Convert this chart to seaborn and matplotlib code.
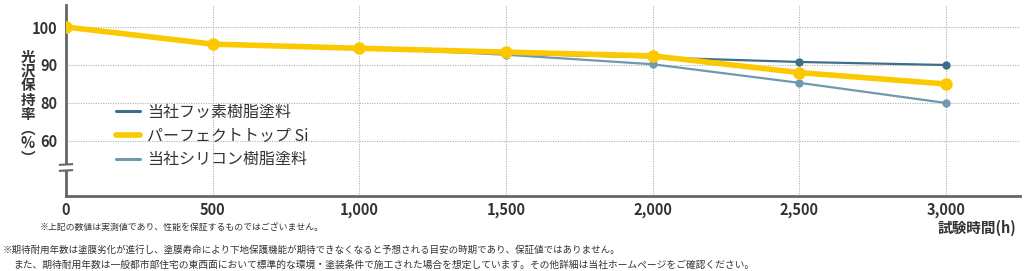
import matplotlib
matplotlib.use("Agg")
import matplotlib.pyplot as plt
import seaborn as sns
import pandas as pd
import numpy as np
from matplotlib.lines import Line2D
from matplotlib.patches import Rectangle

# ---- data ----
hours = [0, 500, 1000, 1500, 2000, 2500, 3000]
fluorine = [100, 95.5, 94.5, 93.0, 92.0, 90.8, 90.0]
perfect_top = [100, 95.5, 94.4, 93.4, 92.4, 88.0, 85.0]
silicone = [100, 95.5, 94.5, 92.7, 90.2, 85.3, 80.0]
series_names = ["当社フッ素樹脂塗料", "パーフェクトトップ Si", "当社シリコン樹脂塗料"]
xtick_values = [0, 500, 1000, 1500, 2000, 2500, 3000]
xtick_labels = ["0", "500", "1,000", "1,500", "2,000", "2,500", "3,000"]
ytick_values = [100, 90, 80, 70]          # broken axis: 70 position labelled 60
ytick_labels = ["100", "90", "80", "60"]
ylabel_chars = ["光", "沢", "保", "持", "率", "︵", "%", "︶"]
xlabel = "試験時間(h)"
note1 = "※上記の数値は実測値であり、性能を保証するものではございません。"
foot1 = "※期待耐用年数は塗膜劣化が進行し、塗膜寿命により下地保護機能が期待できなくなると予想される目安の時期であり、保証値ではありません。"
foot2 = "また、期待耐用年数は一般都市部住宅の東西面において標準的な環境・塗装条件で施工された場合を想定しています。その他詳細は当社ホームページをご確認ください。"

sns.set_theme(style="white")
plt.rcParams['font.family'] = ['Noto Sans CJK JP', 'DejaVu Sans']

c_fl = "#3e6f8a"
c_pt = "#fcc800"
c_si = "#7099ae"
txt = "#333333"
spine_c = "#666666"

fig = plt.figure(figsize=(10.24, 2.71), dpi=100)
ax = fig.add_axes([66/1024, 1-196/271, (1020-66)/1024, (196-5)/271])

df = pd.DataFrame({"h": hours, "fl": fluorine, "pt": perfect_top, "si": silicone})

# grid
for v in ytick_values:
    ax.axhline(v, color="#b0b0b0", lw=0.8, ls=(0, (1, 1.2)), zorder=0)
for v in xtick_values[1:]:
    ax.axvline(v, color="#b0b0b0", lw=0.8, ls=(0, (1, 1.2)), zorder=0)

sns.lineplot(data=df, x="h", y="fl", ax=ax, color=c_fl, lw=1.6, marker="o",
             markersize=6, markeredgewidth=0, zorder=3)
sns.lineplot(data=df, x="h", y="si", ax=ax, color=c_si, lw=1.6, marker="o",
             markersize=6, markeredgewidth=0, zorder=3)
sns.lineplot(data=df, x="h", y="pt", ax=ax, color=c_pt, lw=4, marker="o",
             markersize=9, markeredgewidth=0, zorder=4)

ax.set_xlim(0, 3252)
ax.set_ylim(55.5, 105.8)
ax.set_xticks(xtick_values)
ax.set_xticklabels(xtick_labels, fontsize=10.5, fontweight="bold", color=txt)
ax.set_yticks(ytick_values)
ax.set_yticklabels(ytick_labels, fontsize=10.5, fontweight="bold", color=txt)
ax.tick_params(axis="x", direction="in", length=5, width=2, color=spine_c, pad=4)
ax.tick_params(axis="y", length=0, pad=6)
ax.set_xlabel("")
ax.set_ylabel("")
for s in ["top", "right"]:
    ax.spines[s].set_visible(False)
for s in ["left", "bottom"]:
    ax.spines[s].set_color(spine_c)
    ax.spines[s].set_linewidth(2)

# axis break mark (gap in the y spine with two short strokes)
y_hi, y_lo = (196-164.5)/191, (196-170.5)/191
ax.add_patch(Rectangle((-0.005, y_lo), 0.01, y_hi - y_lo, transform=ax.transAxes,
                       facecolor="white", edgecolor="none", zorder=6, clip_on=False))
for yy in (y_hi, y_lo):
    ax.plot([-0.0075, 0.0075], [yy - 0.002, yy + 0.002], transform=ax.transAxes,
            color=spine_c, lw=1.5, zorder=7, clip_on=False, solid_capstyle="butt")

# legend
handles = [Line2D([], [], color=c_fl, lw=2.2),
           Line2D([], [], color=c_pt, lw=4),
           Line2D([], [], color=c_si, lw=2.2)]
leg = ax.legend(handles, series_names, loc="upper left",
                bbox_to_anchor=((116-66)/954, (196-104)/191), frameon=False,
                prop={"size": 11.5}, handlelength=1.5, handletextpad=0.45,
                labelspacing=0.42, borderaxespad=0, borderpad=0)
for t in leg.get_texts():
    t.set_color(txt)

# y label (vertical writing)
fig.text(28/1024, 1-107/271, "\n".join(ylabel_chars), ha="center", va="center",
         fontsize=10.5, fontweight="bold", color=txt, linespacing=0.88)

fig.text(1016/1024, 1-228/271, xlabel, ha="right", va="center", fontsize=10.5,
         fontweight="bold", color=txt)
fig.text(40/1024, 1-227/271, note1, ha="left", va="center", fontsize=6.4, color=txt)
fig.text(3/1024, 1-250/271, foot1, ha="left", va="center", fontsize=6.8, color=txt)
fig.text(13/1024, 1-265/271, foot2, ha="left", va="center", fontsize=7.05, color=txt)

fig.savefig("out.png", dpi=100, facecolor="white")
